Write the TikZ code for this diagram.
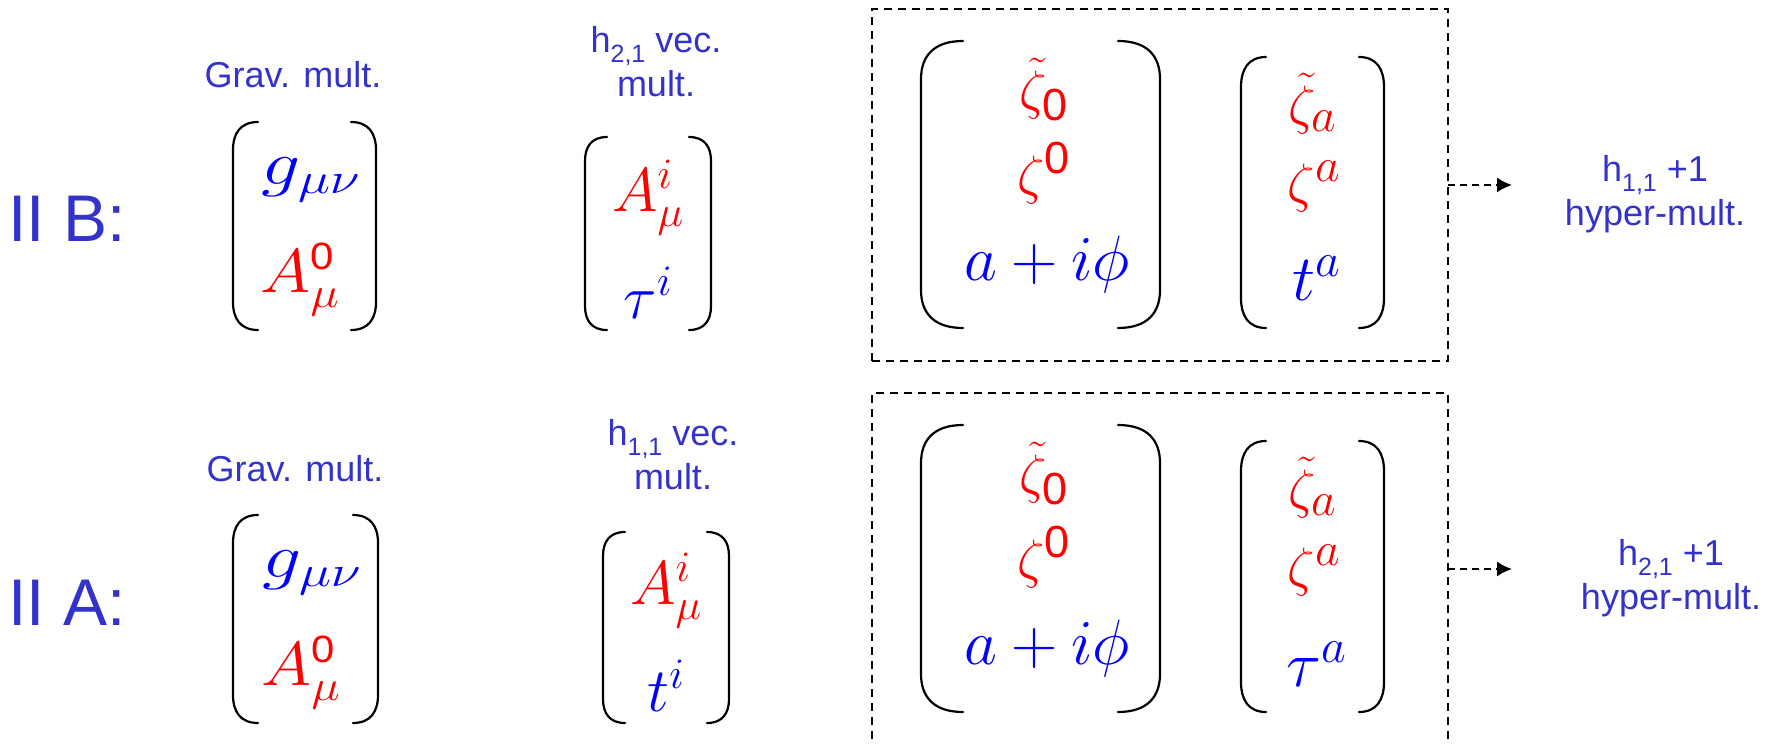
\documentclass[tikz,border=0pt]{standalone}
\usepackage{fix-cm}
\usepackage{amsmath}
\usepackage{fontspec}
\newfontfamily\arial{Liberation Sans}
\usetikzlibrary{arrows.meta}
\definecolor{labblue}{RGB}{51,51,204}
\definecolor{mblue}{RGB}{0,0,255}
\definecolor{mred}{RGB}{255,0,0}
\newcommand\lsub[1]{\raisebox{-10pt}{\fontsize{25}{25}\selectfont #1}}
\newcommand\zs[1]{\hbox{\arial\fontsize{#1}{#1}\selectfont 0}}
\newcommand\ms[2]{\hbox{\fontsize{#1}{#1}\selectfont$#2$}}
\newcommand\mylp[5]{\draw[parline] ({#1+#4},#2) .. controls ({#1+0.3*#4},#2) and (#1,{#2+0.4*#5}) .. (#1,{#2+#5}) -- (#1,{#3-#5}) .. controls (#1,{#3-0.4*#5}) and ({#1+0.3*#4},#3) .. ({#1+#4},#3);}
\newcommand\myrp[5]{\draw[parline] ({#1-#4},#2) .. controls ({#1-0.3*#4},#2) and (#1,{#2+0.4*#5}) .. (#1,{#2+#5}) -- (#1,{#3-#5}) .. controls (#1,{#3-0.4*#5}) and ({#1-0.3*#4},#3) .. ({#1-#4},#3);}
\begin{document}
\begin{tikzpicture}[x=1pt,y=-1pt,
  lab/.style={text=labblue,font=\arial\fontsize{36}{44}\selectfont,inner sep=0pt,align=center},
  bigl/.style={text=labblue,font=\arial\fontsize{66}{70}\selectfont,inner sep=0pt,anchor=base west},
  mth/.style={inner sep=0pt,anchor=base},
  mz/.style={mth,font=\fontsize{54}{64}\selectfont},
  mg/.style={mth,font=\fontsize{62}{72}\selectfont},
  mv/.style={mth,font=\fontsize{62}{74}\selectfont},
  mt/.style={mth,font=\fontsize{65}{76}\selectfont},
  parline/.style={line width=2.2pt,line cap=round},
  dbox/.style={draw,line width=1.8pt,dash pattern=on 8pt off 6pt,inner sep=0pt,outer sep=0pt,minimum width=576pt},
  conn/.style={line width=1.8pt,dash pattern=on 7pt off 5pt,-{Latex[length=15pt,width=15pt]}}
]
\useasboundingbox (0,0) rectangle (1777,744);
\clip (0,0) rectangle (1777,744);

% ---------- II B ----------
\node[bigl] (iib) at (8,241) {II B:};
\node[lab,anchor=base] (gravB) at (293,87) {Grav. mult.};
\node[lab] (vecB) at (656,62) {h\lsub{2,1} vec.\\mult.};
\mylp{233}{122}{330}{25}{28}
\myrp{376}{122}{330}{25}{28}
\node[mg,text=mblue,xscale=1.25] (gB1) at (311,184) {$g_{\mu\nu}$};
\node[mg,text=mred,xscale=1.1] (gB2) at (300,292) {$A^{\zs{38}}_{\mu}$};
\mylp{585}{137}{330}{22}{24}
\myrp{711}{137}{330}{22}{24}
\node[mv,text=mred] (vB1) at (648,211) {$A^{i}_{\mu}$};
\node[mv,text=mblue] (vB2) at (648,318) {$\tau^{i}$};
\node[dbox,minimum height=352pt] (boxB) at (1160,185) {};
\mylp{921}{41}{328}{42}{38}
\myrp{1160}{41}{328}{42}{38}
\node[mz,text=mred] (bB1) at (1044,108) {$\tilde{\zeta}_{\zs{45}}$};
\node[mz,text=mred] (bB2) at (1044,193) {$\zeta^{\zs{45}}$};
\node[mt,text=mblue,font=\fontsize{64}{76}\selectfont] (bB3) at (1047,280) {$a\mathbin{\mathbf{+}}i\phi$};
\mylp{1241}{57}{328}{25}{30}
\myrp{1384}{57}{328}{25}{30}
\node[mz,text=mred] (sB1) at (1313,123) {$\tilde{\zeta}_{\ms{48}{a}}$};
\node[mz,text=mred] (sB2) at (1314,201) {$\zeta^{\ms{48}{a}}$};
\node[mt,text=mblue] (sB3) at (1317,300) {$t^{\ms{48}{a}}$};
\coordinate (tipB) at (1512,185);
\draw[conn] (boxB.east) -- (tipB);
\node[lab] (hypB) at (1655,194) {h\lsub{1,1} +1\\hyper-mult.};

% ---------- II A ----------
\node[bigl] (iia) at (8,625) {II A:};
\node[lab,anchor=base] (gravA) at (295,481) {Grav. mult.};
\node[lab] (vecA) at (673,455) {h\lsub{1,1} vec.\\mult.};
\mylp{233}{515}{723}{25}{28}
\myrp{378}{515}{723}{25}{28}
\node[mg,text=mblue,xscale=1.25] (gA1) at (312,577) {$g_{\mu\nu}$};
\node[mg,text=mred,xscale=1.1] (gA2) at (301,685) {$A^{\zs{38}}_{\mu}$};
\mylp{603}{532}{723}{22}{24}
\myrp{729}{532}{723}{22}{24}
\node[mv,text=mred] (vA1) at (666,604) {$A^{i}_{\mu}$};
\node[mv,text=mblue] (vA2) at (666,711) {$t^{i}$};
\node[dbox,minimum height=400pt] (boxA) at (1160,593) {};
\mylp{921}{425}{712}{42}{38}
\myrp{1160}{425}{712}{42}{38}
\node[mz,text=mred] (bA1) at (1044,492) {$\tilde{\zeta}_{\zs{45}}$};
\node[mz,text=mred] (bA2) at (1044,577) {$\zeta^{\zs{45}}$};
\node[mt,text=mblue,font=\fontsize{64}{76}\selectfont] (bA3) at (1047,664) {$a\mathbin{\mathbf{+}}i\phi$};
\mylp{1241}{441}{712}{25}{30}
\myrp{1384}{441}{712}{25}{30}
\node[mz,text=mred] (sA1) at (1313,507) {$\tilde{\zeta}_{\ms{48}{a}}$};
\node[mz,text=mred] (sA2) at (1314,585) {$\zeta^{\ms{48}{a}}$};
\node[mt,text=mblue] (sA3) at (1317,686) {$\tau^{\ms{48}{a}}$};
\coordinate (tipA) at (1512,569);
\draw[conn] (boxA.east |- tipA) -- (tipA);
\node[lab] (hypA) at (1671,578) {h\lsub{2,1} +1\\hyper-mult.};
\end{tikzpicture}
\end{document}
